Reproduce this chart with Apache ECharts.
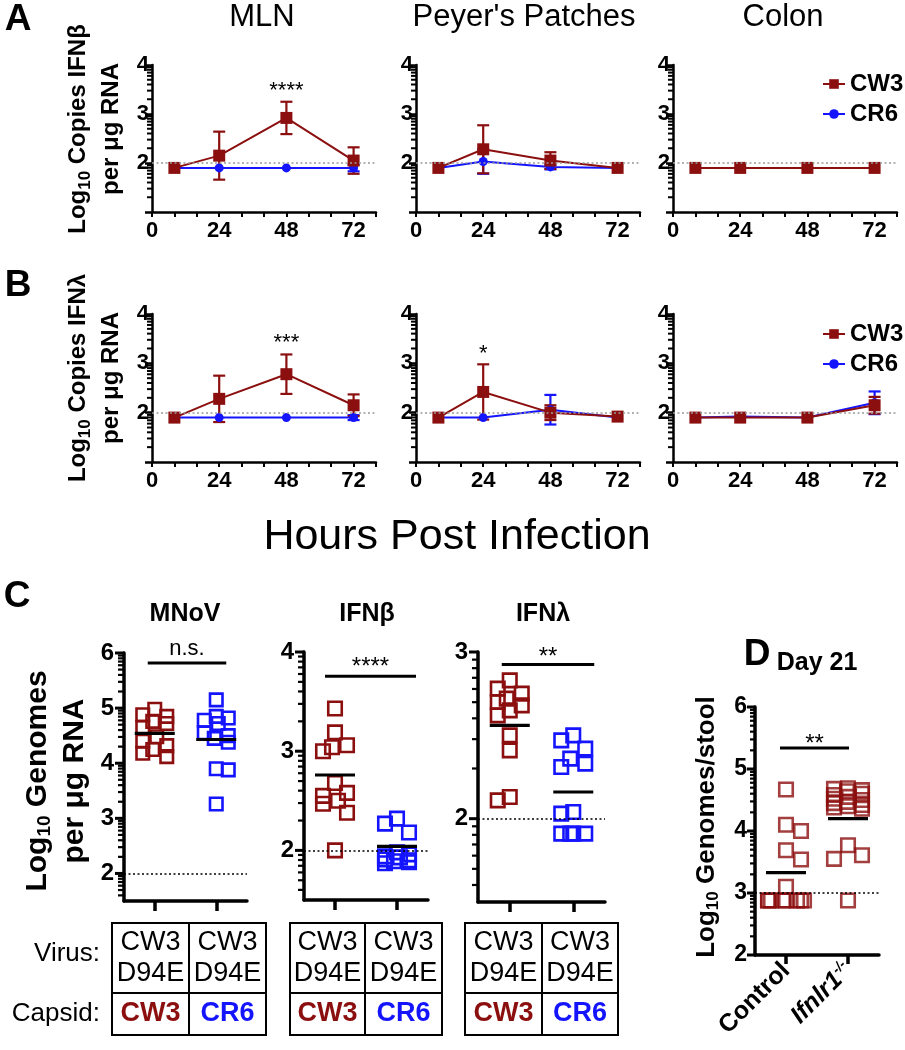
<!DOCTYPE html>
<html>
<head>
<meta charset="utf-8">
<script src="https://cdn.jsdelivr.net/npm/echarts@6/dist/echarts.min.js"></script>
<style>html,body{margin:0;padding:0;background:#fff}#chart{width:905px;height:1050px}</style>
</head>
<body>
<div id="chart"></div>
<script>
// ================= DATA =================
const hours = [8, 24, 48, 72];
const hourTickLabels = [0, 24, 48, 72];
const abTissues = ['MLN', "Peyer's Patches", 'Colon'];
const strains = ['CW3', 'CR6'];

// Panel A – IFNβ, mean and SEM (log10 copies per µg RNA)
const ifnbMlnCW3 = [1.9, 2.15, 2.92, 2.05];
const ifnbMlnCW3Sem = [0, 0.49, 0.33, 0.27];
const ifnbMlnCR6 = [1.9, 1.9, 1.9, 1.9];
const ifnbMlnCR6Sem = [0, 0, 0, 0.07];
const ifnbPpCW3 = [1.9, 2.28, 2.05, 1.9];
const ifnbPpCW3Sem = [0, 0.49, 0.17, 0];
const ifnbPpCR6 = [1.9, 2.03, 1.92, 1.9];
const ifnbPpCR6Sem = [0, 0.25, 0.05, 0];
const ifnbColCW3 = [1.9, 1.9, 1.9, 1.9];
const ifnbColCW3Sem = [0, 0, 0, 0];
const ifnbColCR6 = [1.9, 1.9, 1.9, 1.9];
const ifnbColCR6Sem = [0, 0, 0, 0];

// Panel B – IFNλ
const ifnlMlnCW3 = [1.9, 2.28, 2.78, 2.15];
const ifnlMlnCW3Sem = [0, 0.47, 0.4, 0.22];
const ifnlMlnCR6 = [1.9, 1.9, 1.9, 1.9];
const ifnlMlnCR6Sem = [0, 0, 0, 0.05];
const ifnlPpCW3 = [1.9, 2.42, 2.0, 1.92];
const ifnlPpCW3Sem = [0, 0.56, 0.15, 0];
const ifnlPpCR6 = [1.9, 1.9, 2.06, 1.9];
const ifnlPpCR6Sem = [0, 0, 0.3, 0];
const ifnlColCW3 = [1.9, 1.9, 1.9, 2.15];
const ifnlColCW3Sem = [0, 0, 0, 0.17];
const ifnlColCR6 = [1.9, 1.92, 1.9, 2.2];
const ifnlColCR6Sem = [0, 0, 0, 0.23];

// significance stars in A/B  (panel index, hour, level)
const abStarText = ['****', '***', '*'];
const abStarPanel = [0, 3, 4];
const abStarHour = [48, 48, 24];
const abStarLevel = [3.57, 3.52, 3.3];

// Panel C
const cTitles = ['MNoV', 'IFNβ', 'IFNλ'];
const cGroups = ['CW3', 'CR6'];
const mnovCW3 = [4.98, 4.88, 4.85, 4.76, 4.72, 4.65, 4.48, 4.4, 4.32, 4.25, 4.18, 4.12];
const mnovCR6 = [5.15, 4.85, 4.82, 4.78, 4.72, 4.55, 4.5, 4.45, 4.38, 3.9, 3.88, 3.26];
const mnovMean = [4.54, 4.43];
const ifnbCW3 = [3.43, 3.19, 3.06, 3.04, 3.0, 2.68, 2.58, 2.55, 2.5, 2.47, 2.38, 2.0];
const ifnbCR6 = [2.32, 2.27, 2.18, 1.98, 1.96, 1.94, 1.93, 1.91, 1.9, 1.89, 1.88, 1.87];
const ifnbMean = [2.76, 2.04];
const ifnlCW3 = [2.83, 2.78, 2.75, 2.72, 2.7, 2.68, 2.65, 2.62, 2.5, 2.41, 2.13, 2.11];
const ifnlCR6 = [2.5, 2.47, 2.42, 2.36, 2.33, 2.31, 2.04, 2.03, 1.91, 1.91, 1.91, 1.91];
const ifnlMean = [2.56, 2.16];
const cSigText = ['n.s.', '****', '**'];
const cSigLevel = [5.82, 3.755, 2.925];
const cAxisMin = [1.5, 1.5, 1.5];
const cAxisMax = [6, 4, 3];
const virusRow = ['CW3\nD94E', 'CW3\nD94E'];
const capsidRow = ['CW3', 'CR6'];

// Panel D
const dTitle = 'Day 21';
const dGroups = ['Control', 'Ifnlr1-/-'];
const dControl = [4.67, 4.1, 4.0, 3.69, 3.54, 3.1, 2.88, 2.88, 2.88, 2.88, 2.88, 2.88, 2.88, 2.88];
const dIfnlr1 = [4.69, 4.68, 4.66, 4.64, 4.6, 4.58, 4.55, 4.52, 4.5, 4.47, 4.45, 4.42, 4.4, 4.38, 4.36, 3.77, 3.61, 3.55, 2.88];
const dMean = [3.33, 4.2];
const dSigText = '**';
const dSigLevel = 5.34;

// limits of detection (dotted lines)
const lodAB = 2, lodC = 2, lodD = 3;

// ================= STYLE / LAYOUT =================
const FONT = '"Liberation Sans", Arial, Helvetica, sans-serif';
const RED = '#8c0f0f', BLUE = '#1414ff', BLACK = '#000';
const abLefts = [152, 416, 673], abWidth = 224, abTops = [65, 314], abHeights = [147, 148];
const cLefts = [124, 304, 478], cWidths = [123, 124, 127], cTops = [653, 652, 652], cHeights = [248, 248, 250];
const cSigPad = [[7, 10], [10, 19], [8, 21]];
const cSigTextDy = [-14, -9, -7];
const dGrid = { left: 755, top: 707, width: 124, height: 248 };
const tables = [{ l: 112, m: 189, r: 266 }, { l: 290, m: 365, r: 442 }, { l: 465, m: 542, r: 618 }];
const tableRows = { top: 923, mid: 993, bottom: 1035 };

const grid = [], xAxis = [], yAxis = [], series = [], graphic = [], tickJobs = [];

function minorLogValues(min, max) {
  const out = [];
  for (let n = Math.floor(min); n <= Math.ceil(max); n++) {
    for (let k = 2; k <= 9; k++) {
      const v = n + Math.log10(k);
      if (v > min + 1e-9 && v < max - 1e-9) out.push(v);
    }
  }
  return out;
}
function errorSeries(ai, data, color) {
  return {
    type: 'custom', xAxisIndex: ai, yAxisIndex: ai, data, silent: true, clip: false, z: 2,
    encode: { x: 0, y: 1 },
    renderItem: (params, api) => {
      const x = api.value(0), m = api.value(1), e = api.value(2);
      if (!(e > 0)) return { type: 'group', children: [] };
      const t = api.coord([x, m + e]), b = api.coord([x, m - e]), cap = 6;
      const st = () => ({ stroke: color, lineWidth: 2.2 });
      return { type: 'group', children: [
        { type: 'line', shape: { x1: t[0], y1: t[1], x2: b[0], y2: b[1] }, style: st() },
        { type: 'line', shape: { x1: t[0] - cap, y1: t[1], x2: t[0] + cap, y2: t[1] }, style: st() },
        { type: 'line', shape: { x1: b[0] - cap, y1: b[1], x2: b[0] + cap, y2: b[1] }, style: st() }
      ] };
    }
  };
}
function textSeries(ai, x, y, text, size, dy) {
  return {
    type: 'custom', xAxisIndex: ai, yAxisIndex: ai, data: [[x, y]], silent: true, clip: false, z: 5,
    encode: { x: 0, y: 1 },
    renderItem: (params, api) => {
      const c = api.coord([api.value(0), api.value(1)]);
      return { type: 'text', x: c[0], y: c[1] + dy,
        style: { text, fontFamily: FONT, fontSize: size, fill: BLACK, align: 'center', verticalAlign: 'middle' } };
    }
  };
}
function meanSeries(ai, means) {
  return {
    type: 'custom', xAxisIndex: ai, yAxisIndex: ai, data: means.map((m, i) => [i, m]), silent: true, z: 6,
    encode: { x: 0, y: 1 },
    renderItem: (params, api) => {
      const c = api.coord([api.value(0), api.value(1)]);
      return { type: 'line', shape: { x1: c[0] - 20, y1: c[1], x2: c[0] + 20, y2: c[1] },
        style: { stroke: BLACK, lineWidth: 3.2 } };
    }
  };
}
function sigSeries(ai, level, text, pad, textDy, size) {
  return {
    type: 'custom', xAxisIndex: ai, yAxisIndex: ai, data: [[0, level]], silent: true, clip: false, z: 6,
    encode: { x: 0, y: 1 },
    renderItem: (params, api) => {
      const a = api.coord([0, api.value(1)]), b = api.coord([1, api.value(1)]);
      const x1 = a[0] - pad[0], x2 = b[0] + pad[1];
      return { type: 'group', children: [
        { type: 'line', shape: { x1, y1: a[1], x2, y2: a[1] }, style: { stroke: BLACK, lineWidth: 3 } },
        { type: 'text', x: (x1 + x2) / 2, y: a[1] + textDy,
          style: { text, fontFamily: FONT, fontSize: size, fill: BLACK, align: 'center', verticalAlign: 'middle' } }
      ] };
    }
  };
}
const dotted = (color, w) => ({ silent: true, symbol: 'none', label: { show: false },
  lineStyle: { color, type: [2, 2.5], width: w }, emphasis: { disabled: true } });

// ================= PANELS A & B =================
const abSets = [
  [ifnbMlnCW3, ifnbMlnCW3Sem, ifnbMlnCR6, ifnbMlnCR6Sem],
  [ifnbPpCW3, ifnbPpCW3Sem, ifnbPpCR6, ifnbPpCR6Sem],
  [ifnbColCW3, ifnbColCW3Sem, ifnbColCR6, ifnbColCR6Sem],
  [ifnlMlnCW3, ifnlMlnCW3Sem, ifnlMlnCR6, ifnlMlnCR6Sem],
  [ifnlPpCW3, ifnlPpCW3Sem, ifnlPpCR6, ifnlPpCR6Sem],
  [ifnlColCW3, ifnlColCW3Sem, ifnlColCR6, ifnlColCR6Sem]
];
abSets.forEach((set, p) => {
  const r = Math.floor(p / 3), c = p % 3;
  const ai = grid.length;
  grid.push({ left: abLefts[c], top: abTops[r], width: abWidth, height: abHeights[r] });
  xAxis.push({
    gridIndex: ai, type: 'value', min: 0, max: 80, interval: 8,
    axisLine: { show: true, onZero: false, lineStyle: { color: BLACK, width: 2.5 } },
    axisTick: { show: true, length: 5, lineStyle: { color: BLACK, width: 2 } },
    axisLabel: { formatter: v => hourTickLabels.includes(v) ? String(v) : '', fontFamily: FONT,
      fontWeight: 'bold', fontSize: 22, color: BLACK, margin: 8, showMaxLabel: true, hideOverlap: false },
    splitLine: { show: false }
  });
  yAxis.push({
    gridIndex: ai, type: 'value', min: 1, max: 4, interval: 1,
    axisLine: { show: true, onZero: false, lineStyle: { color: BLACK, width: 2.5 } },
    axisTick: { show: true, length: 7, lineStyle: { color: BLACK, width: 2.5 } },
    axisLabel: { formatter: v => v === 1 ? '' : String(v), fontFamily: FONT, fontWeight: 'bold',
      fontSize: 22, color: BLACK, margin: 3 },
    splitLine: { show: false }
  });
  const [cw3, cw3e, cr6, cr6e] = set;
  series.push({
    type: 'line', name: 'CR6', xAxisIndex: ai, yAxisIndex: ai,
    data: hours.map((h, i) => [h, cr6[i]]), symbol: 'circle', symbolSize: 9,
    itemStyle: { color: BLUE }, lineStyle: { color: BLUE, width: 2 }, z: 2,
    markLine: Object.assign(dotted('#9a9a9a', 1.5), { data: [{ yAxis: lodAB }] })
  });
  series.push(errorSeries(ai, hours.map((h, i) => [h, cr6[i], cr6e[i]]), BLUE));
  series.push({
    type: 'line', name: 'CW3', xAxisIndex: ai, yAxisIndex: ai,
    data: hours.map((h, i) => [h, cw3[i]]), symbol: 'rect', symbolSize: 12,
    itemStyle: { color: RED }, lineStyle: { color: RED, width: 2 }, z: 2
  });
  series.push(errorSeries(ai, hours.map((h, i) => [h, cw3[i], cw3e[i]]), RED));
  tickJobs.push({ ai, x: 0, min: 1, max: 4, major: false, majLen: 7, minLen: 5, majW: 2.5, minW: 2 });
});
abStarText.forEach((t, i) => {
  series.push(textSeries(abStarPanel[i], abStarHour[i], abStarLevel[i], t, 22, 5));
});

// ================= PANEL C =================
const cSets = [[mnovCW3, mnovCR6, mnovMean], [ifnbCW3, ifnbCR6, ifnbMean], [ifnlCW3, ifnlCR6, ifnlMean]];
const swarmJobs = [];
cSets.forEach((set, k) => {
  const ai = grid.length;
  grid.push({ left: cLefts[k], top: cTops[k], width: cWidths[k], height: cHeights[k] });
  xAxis.push({
    gridIndex: ai, type: 'category', data: cGroups, boundaryGap: true,
    axisLine: { show: true, onZero: false, lineStyle: { color: BLACK, width: 3.5 } },
    axisTick: { show: true, alignWithLabel: true, length: 10, lineStyle: { color: BLACK, width: 3.5 } },
    axisLabel: { show: false }, splitLine: { show: false }
  });
  yAxis.push({
    gridIndex: ai, type: 'value', min: cAxisMin[k], max: cAxisMax[k], interval: 0.5,
    axisLine: { show: true, onZero: false, lineStyle: { color: BLACK, width: 3.5 } },
    axisTick: { show: false },
    axisLabel: { formatter: v => Number.isInteger(v) ? String(v) : '', fontFamily: FONT, fontWeight: 'bold',
      fontSize: 24, color: BLACK, margin: 10 },
    splitLine: { show: false }
  });
  const size = k === 0 ? 12.5 : 13.5;
  [set[0], set[1]].forEach((vals, g) => {
    const id = 'c' + k + '-' + g;
    series.push({
      id, type: 'scatter', name: 'C ' + cGroups[g], xAxisIndex: ai, yAxisIndex: ai,
      data: vals.map(v => [g, v]), symbol: 'rect', symbolSize: size, z: 3,
      itemStyle: { color: 'rgba(0,0,0,0)', borderColor: g === 0 ? RED : BLUE, borderWidth: 2.6, opacity: 1 },
      markLine: g === 0 ? Object.assign(dotted(BLACK, 1.6), { data: [{ yAxis: lodC }] }) : undefined
    });
    swarmJobs.push({ id, ai, g, vals, size: size + 2.6, maxOff: 12 });
  });
  series.push(meanSeries(ai, set[2]));
  series.push(sigSeries(ai, cSigLevel[k], cSigText[k], cSigPad[k], cSigTextDy[k], k === 0 ? 22 : 24));
  tickJobs.push({ ai, x: 0, min: cAxisMin[k], max: cAxisMax[k], major: true, majLen: 9, minLen: 6, majW: 3, minW: 2.2 });
});

// ================= PANEL D =================
{
  const ai = grid.length;
  grid.push(dGrid);
  xAxis.push({
    gridIndex: ai, type: 'category', data: dGroups, boundaryGap: true,
    axisLine: { show: true, onZero: false, lineStyle: { color: BLACK, width: 3.5 } },
    axisTick: { show: true, alignWithLabel: true, length: 9, lineStyle: { color: BLACK, width: 3.5 } },
    axisLabel: {
      rotate: 45, margin: 12, interval: 0, color: BLACK, fontFamily: FONT, fontWeight: 'bold', fontSize: 25,
      formatter: v => v === 'Ifnlr1-/-' ? '{i|Ifnlr1}{s|-/-}' : v,
      rich: {
        i: { fontFamily: FONT, fontWeight: 'bold', fontStyle: 'italic', fontSize: 25, color: BLACK },
        s: { fontFamily: FONT, fontWeight: 'bold', fontStyle: 'italic', fontSize: 14, color: BLACK, padding: [0, 0, 12, 0] }
      }
    },
    splitLine: { show: false }
  });
  yAxis.push({
    gridIndex: ai, type: 'value', min: 2, max: 6, interval: 1,
    axisLine: { show: true, onZero: false, lineStyle: { color: BLACK, width: 3.5 } },
    axisTick: { show: false },
    axisLabel: { fontFamily: FONT, fontWeight: 'bold', fontSize: 23, color: BLACK, margin: 8 },
    splitLine: { show: false }
  });
  [dControl, dIfnlr1].forEach((vals, g) => {
    const id = 'd-' + g;
    series.push({
      id, type: 'scatter', name: 'D ' + dGroups[g], xAxisIndex: ai, yAxisIndex: ai,
      data: vals.map(v => [g, v]), symbol: 'rect', symbolSize: 13.5, z: 3,
      itemStyle: { color: 'rgba(0,0,0,0)', borderColor: RED, borderWidth: 2.6 },
      markLine: g === 0 ? Object.assign(dotted(BLACK, 1.6), { data: [{ yAxis: lodD }] }) : undefined
    });
    swarmJobs.push({ id, ai, g, vals, size: 16, maxOff: g === 0 ? 18 : 14 });
  });
  series.push(meanSeries(ai, dMean));
  series.push(sigSeries(ai, dSigLevel, dSigText, [6, 1], -4, 24));
  tickJobs.push({ ai, x: 0, min: 2, max: 6, major: true, majLen: 8, minLen: 5, majW: 3, minW: 2.2 });
}

// ================= TEXT / GRAPHICS =================
function T(x, y, text, size, extra) {
  return Object.assign({ type: 'text', x, y, silent: true,
    style: Object.assign({ text, fontFamily: FONT, fontSize: size, fill: BLACK, align: 'center', verticalAlign: 'middle' },
      (extra && extra.style) || {}) }, (extra && extra.el) || {});
}
const bold = s => ({ style: Object.assign({ fontWeight: 'bold' }, s || {}) });
// panel letters
graphic.push(T(18, 20, 'A', 37, bold()));
graphic.push(T(18, 286, 'B', 37, bold()));
graphic.push(T(17, 597, 'C', 37, bold()));
graphic.push(T(757, 655, 'D', 37, bold()));
// A/B titles
[262, 524, 783].forEach((x, i) => graphic.push(T(x, 17, abTissues[i], 31)));
graphic.push(T(457, 537, 'Hours Post Infection', 43));
// A/B y titles
const subRich = (fs) => ({ sub: { fontFamily: FONT, fontWeight: 'bold', fontSize: fs, padding: [Math.round(fs * 0.75), 0, 0, 0] } });
graphic.push(Object.assign(T(95, 129, 'Log{sub|10} Copies IFNβ\nper μg RNA', 24,
  { style: { fontWeight: 'bold', lineHeight: 33, rich: subRich(17) } }), { rotation: Math.PI / 2 }));
graphic.push(Object.assign(T(95, 378, 'Log{sub|10} Copies IFNλ\nper μg RNA', 24,
  { style: { fontWeight: 'bold', lineHeight: 33, rich: subRich(17) } }), { rotation: Math.PI / 2 }));
// C titles and y title
[185, 367, 543].forEach((x, i) => graphic.push(T(x, 614, cTitles[i], 25, bold())));
graphic.push(Object.assign(T(56, 781, 'Log{sub|10} Genomes\nper μg RNA', 30,
  { style: { fontWeight: 'bold', lineHeight: 37, rich: subRich(19) } }), { rotation: Math.PI / 2 }));
// D title and y title
graphic.push(T(817, 663, dTitle, 25, bold()));
graphic.push(Object.assign(T(707, 827, 'Log{sub|10} Genomes/stool', 26,
  { style: { fontWeight: 'bold', rich: subRich(17) } }), { rotation: Math.PI / 2 }));
// table row labels
graphic.push(T(100, 954, 'Virus:', 26, { style: { align: 'right' } }));
graphic.push(T(100, 1014, 'Capsid:', 26, { style: { align: 'right' } }));
tables.forEach(t => {
  const ln = (x1, y1, x2, y2) => ({ type: 'line', silent: true, shape: { x1, y1, x2, y2 }, style: { stroke: BLACK, lineWidth: 2 } });
  graphic.push({ type: 'rect', silent: true, shape: { x: t.l, y: tableRows.top, width: t.r - t.l, height: tableRows.bottom - tableRows.top },
    style: { fill: 'none', stroke: BLACK, lineWidth: 2 } });
  graphic.push(ln(t.l, tableRows.mid, t.r, tableRows.mid));
  graphic.push(ln(t.m, tableRows.top, t.m, tableRows.bottom));
  const cx = [(t.l + t.m) / 2, (t.m + t.r) / 2];
  cx.forEach((x, j) => {
    graphic.push(T(x, (tableRows.top + tableRows.mid) / 2, virusRow[j], 27, { style: { lineHeight: 31 } }));
    graphic.push(T(x, (tableRows.mid + tableRows.bottom) / 2, capsidRow[j], 27,
      { style: { fontWeight: 'bold', fill: j === 0 ? RED : BLUE } }));
  });
});

const legendBase = top => ({
  data: strains, orient: 'vertical', left: 822, top, itemWidth: 22, itemHeight: 12, itemGap: 6, padding: 0,
  selectedMode: false, textStyle: { fontFamily: FONT, fontSize: 24, fontWeight: 'bold', color: BLACK }
});

const option = {
  animation: false,
  backgroundColor: '#fff',
  textStyle: { fontFamily: FONT, color: BLACK },
  grid, xAxis, yAxis, series,
  legend: [legendBase(72), legendBase(322)]
};
const chart = echarts.init(document.getElementById('chart'));
chart.setOption(option);   // phase 1: scales only

// ================= y-axis log-style ticks, placed through the chart's own scales =================
const tickEls = [];
tickJobs.forEach(job => {
  const vals = [];
  if (job.major) for (let n = Math.ceil(job.min); n <= job.max; n++) vals.push([n, job.majLen, job.majW]);
  minorLogValues(job.min, job.max).forEach(v => vals.push([v, job.minLen, job.minW]));
  const x0 = grid[job.ai].left;
  vals.forEach(([v, len, w]) => {
    const p = chart.convertToPixel({ xAxisIndex: job.ai, yAxisIndex: job.ai }, [job.x, v]);
    const y = p ? p[1] : NaN;
    if (isFinite(y)) tickEls.push({ type: 'line', silent: true, z: 100,
      shape: { x1: x0 - len, y1: y, x2: x0 + 0.5, y2: y }, style: { stroke: BLACK, lineWidth: w } });
  });
});

// ================= beeswarm layout (pixel positions from the chart's own scales) =================
function swarm(ys, size, maxOff) {
  const idx = ys.map((_, i) => i).sort((a, b) => ys[a] - ys[b]);
  const placed = [], off = new Array(ys.length).fill(0);
  let flip = 1;
  for (const i of idx) {
    let best = 0, bestCost = Infinity;
    for (let k = 0; k <= 2 * maxOff; k++) {
      const d = (k % 2 === 1 ? 1 : -1) * Math.ceil(k / 2) * flip;
      let cost = Math.abs(d) * 0.6;
      for (const p of placed) {
        const ox = size - Math.abs(d - p.x), oy = size - Math.abs(ys[i] - p.y);
        if (ox > 0 && oy > 0) cost += ox * oy;
      }
      if (cost < bestCost) { bestCost = cost; best = d; }
    }
    off[i] = best; placed.push({ x: best, y: ys[i] }); flip = -flip;
  }
  return off;
}
swarmJobs.forEach(job => {
  const ys = job.vals.map(v => chart.convertToPixel({ xAxisIndex: job.ai, yAxisIndex: job.ai }, [job.g, v])[1]);
  const off = swarm(ys, job.size * 0.92, job.maxOff);
  const s = series.find(se => se.id === job.id);
  s.data = job.vals.map((v, i) => ({ value: [job.g, v], symbolOffset: [off[i], 0] }));
});

// phase 2: full option, including graphics
option.graphic = [{ elements: graphic.concat(tickEls) }];
chart.setOption(option, true);
</script>
</body>
</html>
